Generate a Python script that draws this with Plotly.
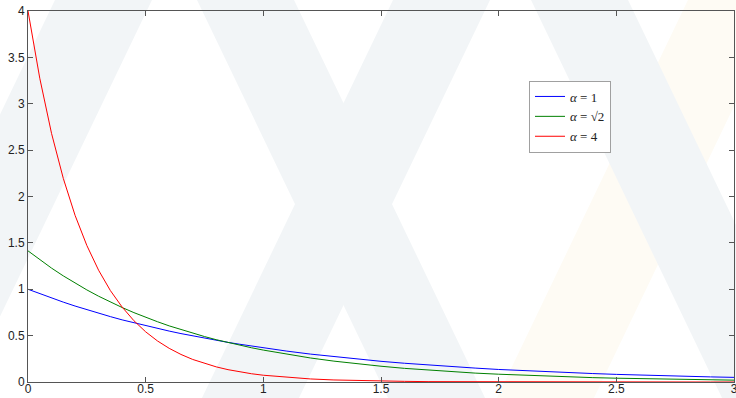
import plotly.graph_objects as go

# ---- data ----
x_vals = [0, 0.05, 0.1, 0.15, 0.2, 0.25, 0.3, 0.35, 0.4, 0.45, 0.5, 0.55, 0.6, 0.65,
          0.7, 0.75, 0.8, 0.85, 0.9, 0.95, 1.0, 1.1, 1.2, 1.3, 1.4, 1.5, 1.6, 1.7,
          1.8, 1.9, 2.0, 2.1, 2.2, 2.3, 2.4, 2.5, 2.6, 2.7, 2.8, 2.9, 3.0]
alpha_1 = [1.000, 0.951, 0.905, 0.861, 0.819, 0.779, 0.741, 0.705, 0.670, 0.638, 0.607,
           0.577, 0.549, 0.522, 0.497, 0.472, 0.449, 0.427, 0.407, 0.387, 0.368, 0.333,
           0.301, 0.273, 0.247, 0.223, 0.202, 0.183, 0.165, 0.150, 0.135, 0.122, 0.111,
           0.100, 0.091, 0.082, 0.074, 0.067, 0.061, 0.055, 0.050]
alpha_sqrt2 = [1.414, 1.318, 1.228, 1.144, 1.066, 0.993, 0.925, 0.862, 0.803, 0.748, 0.697,
               0.650, 0.605, 0.564, 0.526, 0.490, 0.456, 0.425, 0.396, 0.369, 0.344, 0.298,
               0.259, 0.225, 0.195, 0.170, 0.147, 0.128, 0.111, 0.096, 0.084, 0.073, 0.063,
               0.055, 0.047, 0.041, 0.036, 0.031, 0.027, 0.023, 0.020]
alpha_4 = [4.000, 3.275, 2.681, 2.195, 1.797, 1.472, 1.205, 0.986, 0.808, 0.661, 0.541,
           0.443, 0.363, 0.297, 0.243, 0.199, 0.163, 0.133, 0.109, 0.089, 0.073, 0.049,
           0.033, 0.022, 0.015, 0.010, 0.007, 0.004, 0.003, 0.002, 0.001, 0.001, 0.001,
           0.000, 0.000, 0.000, 0.000, 0.000, 0.000, 0.000, 0.000]
series_names = ["<i>α</i> = 1", "<i>α</i> = √2", "<i>α</i> = 4"]
x_ticks = [0, 0.5, 1, 1.5, 2, 2.5, 3]
x_tick_labels = ["0", "0.5", "1", "1.5", "2", "2.5", "3"]
y_ticks = [0, 0.5, 1, 1.5, 2, 2.5, 3, 3.5, 4]
y_tick_labels = ["0", "0.5", "1", "1.5", "2", "2.5", "3", "3.5", "4"]

# ---- style ----
W, H = 736, 398
ML, MR, MT, MB = 28, 2, 11, 16
colors = ["#0000ff", "#008000", "#ff0000"]

fig = go.Figure()
for name, ys, c in zip(series_names, [alpha_1, alpha_sqrt2, alpha_4], colors):
    fig.add_trace(go.Scatter(x=x_vals, y=ys, mode="lines", name=name,
                             line=dict(color=c, width=1)))

# faint watermark bands (decoration), defined in pixel space
plot_w = W - ML - MR
plot_h = H - MT - MB

def px2paper(px, py):
    return (px - ML) / plot_w, (H - MB - py) / plot_h

slope, bw = 0.48, 97
bands = [  # (top-left x, direction, colour)
    (688, -1, "#fefbf4"),
    (55, -1, "#f2f5f7"),
    (197, 1, "#f2f5f7"),
    (393, -1, "#f2f5f7"),
    (531, 1, "#f2f5f7"),
]
shapes = []
for x0, d, col in bands:
    y_a, y_b = -20, H + 20
    pts = [(x0 + d * slope * y_a, y_a), (x0 + bw + d * slope * y_a, y_a),
           (x0 + bw + d * slope * y_b, y_b), (x0 + d * slope * y_b, y_b)]
    pp = [px2paper(*p) for p in pts]
    path = "M " + " L ".join(f"{a:.4f},{b:.4f}" for a, b in pp) + " Z"
    shapes.append(dict(type="path", xref="paper", yref="paper", path=path,
                       fillcolor=col, line=dict(width=0), layer="below"))

axis_common = dict(showgrid=False, zeroline=False, showline=True, linecolor="#555555",
                   linewidth=1, mirror="ticks", ticks="inside", ticklen=5,
                   tickcolor="#555555", tickwidth=1, automargin=False,
                   ticklabeloverflow="allow",
                   tickfont=dict(family="Liberation Sans, Arial, sans-serif", size=12,
                                 color="#222222"))

legend_center_y = 113.5
legend_h = 66
fig.update_layout(
    width=W, height=H,
    margin=dict(l=ML, r=MR, t=MT, b=MB, autoexpand=False),
    paper_bgcolor="white", plot_bgcolor="rgba(0,0,0,0)",
    shapes=shapes,
    xaxis=dict(range=[0, 3], tickvals=x_ticks, ticktext=x_tick_labels,
               ticklabelstandoff=-4, **axis_common),
    yaxis=dict(range=[0, 4], tickvals=y_ticks, ticktext=y_tick_labels, **axis_common),
    legend=dict(x=(529 - ML) / plot_w,
                y=(H - MB - (legend_center_y - legend_h / 2)) / plot_h,
                xanchor="left", yanchor="top", bgcolor="white", bordercolor="#a0a0a0",
                borderwidth=1,
                font=dict(family="Liberation Serif, DejaVu Serif, serif", size=13,
                          color="#222222"),
                tracegroupgap=0, itemwidth=30),
    showlegend=True,
)

fig.write_html("out.html",
               config={"displayModeBar": False, "staticPlot": True},
               post_script="document.body.style.margin='0';document.body.style.overflow='hidden';")
